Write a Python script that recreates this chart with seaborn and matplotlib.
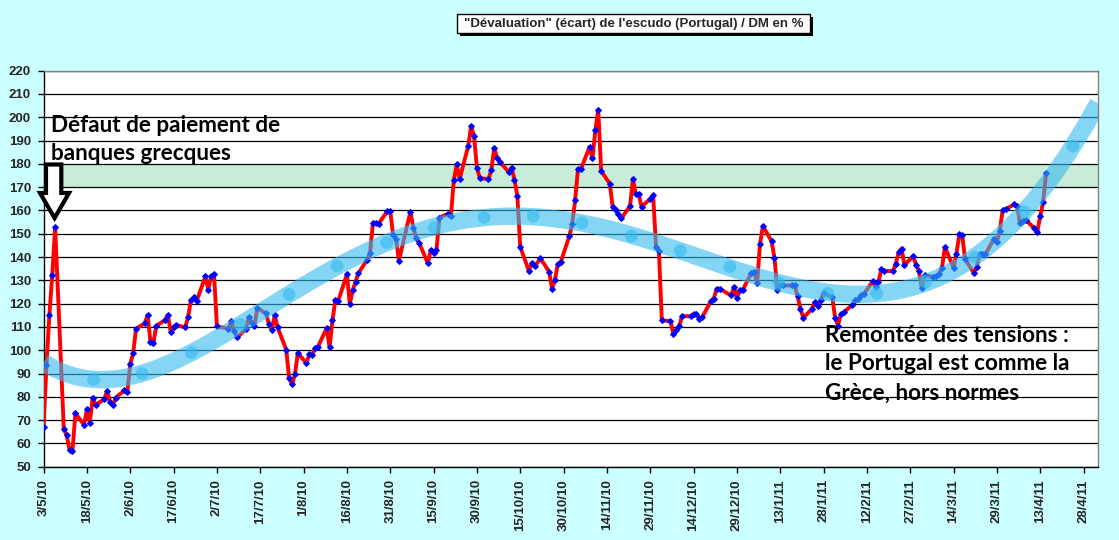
import numpy as np
import pandas as pd
import matplotlib
matplotlib.use("Agg")
import matplotlib.pyplot as plt
import matplotlib.patches as mpatches
import seaborn as sns

# Escudo / DM "devaluation" in %, x = days counted from Monday 3 May 2010
days = [0, 1, 2, 3, 4, 7, 8, 9, 10, 11, 14, 15, 16, 17, 18, 21, 22, 23, 24, 25,
        28, 29, 30, 31, 32, 35, 36, 37, 38, 39, 42, 43, 44, 45, 46, 49, 50, 51, 52, 53,
        56, 57, 58, 59, 60, 64, 65, 66, 67, 70, 71, 72, 73, 74, 77, 78, 79, 80, 81,
        84, 85, 86, 87, 88, 91, 92, 93, 94, 95, 98, 99, 100, 101, 102,
        105, 106, 107, 108, 109, 112, 113, 114, 115, 116, 119, 120, 121, 122, 123,
        127, 128, 129, 130, 133, 134, 135, 136, 137, 140, 141, 142, 143, 144,
        147, 148, 149, 150, 151, 154, 155, 156, 157, 158, 161, 162, 163, 164, 165,
        168, 169, 170, 172, 175, 176, 177, 178, 179, 182, 183, 184, 185, 186,
        189, 190, 191, 192, 193, 196, 197, 198, 199, 200, 203, 204, 205, 206, 207,
        210, 211, 212, 213, 214, 217, 218, 219, 220, 221, 224, 225, 226, 227, 228,
        231, 232, 233, 234, 238, 239, 240, 241, 242, 245, 246, 247, 248, 249,
        252, 253, 254, 255, 256, 259, 260, 261, 262, 263, 266, 267, 268, 269, 270,
        273, 274, 275, 276, 277, 280, 281, 282, 283, 284, 287, 288, 289, 290, 291,
        294, 295, 296, 297, 298, 301, 302, 303, 304, 305, 308, 309, 310, 311, 312,
        315, 316, 317, 318, 319, 322, 323, 324, 325, 326, 329, 330, 331, 332, 333,
        336, 337, 338, 339, 340, 343, 344, 345, 346, 347]
values = [67.1, 93.7, 115.1, 132.3, 152.8, 66.1, 63.5, 57.0, 56.8, 73.0,
          67.9, 74.7, 68.9, 79.7, 76.5, 79.0, 82.6, 77.8, 76.5, 79.7,
          82.8, 82.1, 94.3, 98.7, 109.3, 111.5, 115.1, 103.6, 102.9, 110.5,
          112.9, 115.1, 107.9, 110.1, 110.8, 109.8, 114.1, 121.5, 122.7, 121.2,
          131.7, 126.0, 131.7, 132.7, 110.2, 109.3, 112.6, 108.3, 105.5,
          109.1, 114.1, 111.9, 110.5, 118.1, 115.8, 111.2, 108.6, 115.1, 109.8,
          100.2, 87.9, 85.4, 89.7, 98.7, 94.4, 98.3, 98.0, 100.9, 101.6,
          109.5, 101.2, 112.9, 121.5, 121.2, 132.7, 119.8, 125.8, 129.4, 133.1,
          138.9, 141.7, 154.6, 154.6, 154.4, 159.7, 159.7, 149.4, 147.9, 138.5,
          159.5, 152.3, 148.3, 146.1, 137.3, 143.0, 141.8, 143.0, 156.9,
          158.6, 157.6, 173.1, 179.8, 173.4, 187.7, 196.3, 191.8, 178.4, 173.8,
          173.5, 177.4, 187.0, 182.4, 180.8, 176.5, 178.4, 173.2, 166.2, 144.4,
          134.0, 137.4, 136.0, 139.4, 133.7, 126.4, 130.1, 137.0, 137.8,
          149.0, 154.3, 164.5, 177.9, 177.7, 187.3, 182.4, 194.4, 203.3, 176.9,
          171.5, 161.5, 160.2, 158.3, 156.6, 161.9, 173.6, 166.9, 166.9, 161.6,
          165.0, 166.6, 144.4, 142.6, 112.8, 112.5, 107.0, 108.5, 110.3, 114.6,
          114.6, 115.6, 115.6, 113.6, 114.2, 121.1, 122.2, 126.4, 126.4,
          123.5, 127.2, 122.5, 125.8, 125.8, 133.2, 133.5, 128.9, 145.7, 153.3,
          146.8, 139.7, 125.8, 127.8, 127.8, 127.8, 127.8, 123.2, 117.8, 113.9,
          117.8, 120.6, 118.9, 121.5, 124.6, 122.8, 113.9, 110.6, 115.6, 116.3,
          119.6, 121.5, 121.8, 123.6, 124.2, 129.6, 127.2, 129.4, 134.7, 134.0,
          134.0, 137.1, 142.1, 143.6, 136.5, 140.4, 136.8, 134.0, 126.8, 132.1,
          131.5, 131.8, 132.8, 135.4, 144.3, 135.4, 141.5, 149.7, 149.4, 139.0,
          133.2, 135.7, 141.1, 141.4, 141.1, 147.9, 146.6, 151.1, 160.3, 160.5,
          162.6, 161.9, 154.7, 155.4, 155.9, 152.3, 150.9, 157.6, 163.6, 175.9]

# points of the trend curve (light blue dots)
trend_days = [17.3, 34.1, 51.2, 68.1, 85.0, 101.6, 118.8, 135.3, 152.5, 169.5, 186.4,
              203.5, 220.4, 237.6, 254.4, 271.5, 288.4, 305.4, 322.4, 339.4, 356.3]
trend_values = [87.5, 90.0, 99.0, 111.0, 124.0, 136.2, 146.2, 152.7, 157.0, 157.6, 154.7,
                149.0, 142.7, 135.8, 129.0, 124.4, 124.4, 129.2, 140.0, 159.4, 187.6]

tick_labels = ["3/5/10", "18/5/10", "2/6/10", "17/6/10", "2/7/10", "17/7/10", "1/8/10",
               "16/8/10", "31/8/10", "15/9/10", "30/9/10", "15/10/10", "30/10/10",
               "14/11/10", "29/11/10", "14/12/10", "29/12/10", "13/1/11", "28/1/11",
               "12/2/11", "27/2/11", "14/3/11", "29/3/11", "13/4/11", "28/4/11"]

zone = (170, 180)
title = "\"Dévaluation\" (écart) de l'escudo (Portugal) / DM en %"
note_left = ["Défaut de paiement de", "banques grecques"]
note_right = ["Remontée des tensions :", "le Portugal est comme la", "Grèce, hors normes"]

sns.set_style("white")
plt.rcParams['font.family'] = ['Liberation Sans', 'DejaVu Sans']

W, H = 1119, 540
fig = plt.figure(figsize=(W / 100, H / 100), dpi=100, facecolor='#ccffff')
ax = fig.add_axes([43.6 / W, 1 - 466.7 / H, (1098 - 43.6) / W, 396 / H])
ax.set_facecolor('white')
ax.set_xlim(0, 365)
ax.set_ylim(50, 220)

ax.axhspan(zone[0], zone[1], color='#c9ecd8', lw=0, zorder=0.3)
ax.set_yticks(range(50, 221, 10))
ax.yaxis.grid(True, color='black', lw=0.9, zorder=0.5)
ax.xaxis.grid(False)
ax.set_axisbelow(True)

sns.lineplot(x=days, y=values, ax=ax, color='#ff0000', lw=2.8, marker='D', ms=3,
             mfc='#0000ff', mec='#0000ff', zorder=3)

sns.regplot(x=trend_days, y=trend_values, order=6, ax=ax, scatter=False, ci=None,
            truncate=False,
            line_kws=dict(color='#33bbee', alpha=0.6, lw=12.5, solid_capstyle='butt', zorder=4))
sns.scatterplot(x=trend_days, y=trend_values, ax=ax, s=85, color='#33bbee', alpha=0.6,
                edgecolor='none', zorder=5)
ax.set_xlim(0, 365)
ax.set_ylim(50, 220)

ax.set_xticks(np.arange(len(tick_labels)) * 15)
ax.set_xticklabels(tick_labels, rotation=90, fontweight='bold', fontsize=9.5)
ax.set_yticklabels([str(v) for v in range(50, 221, 10)], fontweight='bold', fontsize=9.5)
ax.tick_params(axis='y', direction='out', length=4, width=1, color='black', pad=5, left=True)
ax.tick_params(axis='x', direction='out', length=4, width=1, color='black', pad=5, bottom=True)
ax.set_xlabel('')
ax.set_ylabel('')
for side in ['left', 'bottom']:
    ax.spines[side].set_color('black')
    ax.spines[side].set_linewidth(1)
for side in ['top', 'right']:
    ax.spines[side].set_color('#808080')
    ax.spines[side].set_linewidth(1)

# title box with shadow (pixel coordinates from top-left)
def px(x, y):
    return x / W, 1 - y / H

bx0, by0, bx1, by1 = 457, 14, 810, 33
fig.add_artist(mpatches.Rectangle(px(bx0 + 3, by1 + 3), (bx1 - bx0) / W, (by1 - by0) / H,
                                  transform=fig.transFigure, color='black', lw=0))
fig.add_artist(mpatches.Rectangle(px(bx0, by1), (bx1 - bx0) / W, (by1 - by0) / H,
                                  transform=fig.transFigure, facecolor='white',
                                  edgecolor='black', lw=1))
fig.text(*px((bx0 + bx1) / 2, (by0 + by1) / 2 + 0.5), title, ha='center', va='center',
         fontsize=9.5, fontweight='bold')

note_font = dict(family=['Lato', 'DejaVu Sans'], fontsize=16.2, fontweight='bold', color='black')
for i, line in enumerate(note_left):
    fig.text(*px(51, 131.7 + 28.5 * i), line, ha='left', va='baseline', **note_font)
for i, line in enumerate(note_right):
    fig.text(*px(825, 341.7 + 28.8 * i), line, ha='left', va='baseline', **note_font)

arrow_pts = [(46, 164.5), (61.3, 164.5), (61.3, 193), (69, 193), (54.6, 218),
             (40, 193), (46, 193)]
fig.add_artist(mpatches.Polygon([px(x, y) for x, y in arrow_pts], closed=True,
                                transform=fig.transFigure, facecolor='white',
                                edgecolor='black', lw=3, joinstyle='miter', zorder=10))

fig.savefig('out.png', dpi=100, facecolor=fig.get_facecolor())
